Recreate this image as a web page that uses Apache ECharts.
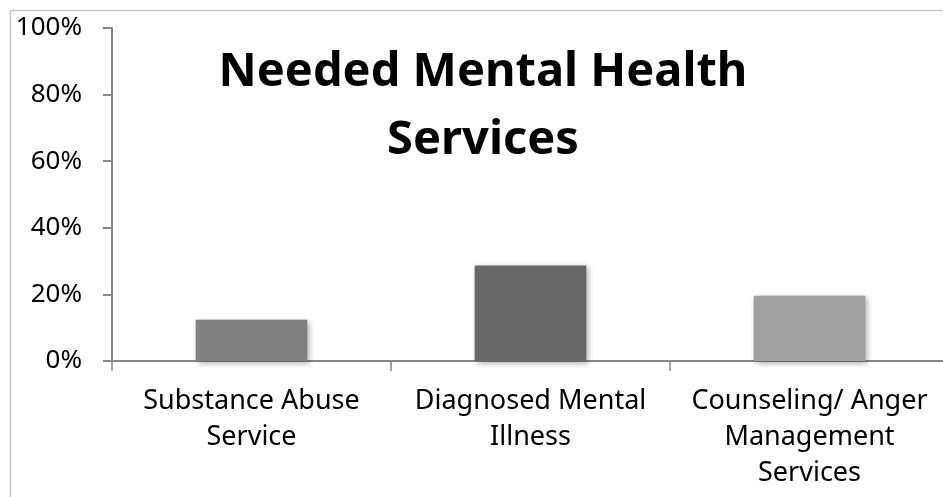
<!DOCTYPE html>
<html>
<head>
<meta charset="utf-8">
<script src="https://cdn.jsdelivr.net/npm/echarts@6/dist/echarts.min.js"></script>
<style>
html,body{margin:0;padding:0;background:#fff;overflow:hidden;}
#chart{width:949px;height:497px;}
</style>
</head>
<body>
<div id="chart"></div>
<script>
const categories = ['Substance Abuse\nService', 'Diagnosed Mental\nIllness', 'Counseling/ Anger\nManagement\nServices'];
const values = [12.4, 28.7, 19.6];
const barColors = ['#808080', '#686868', '#a0a0a0'];
const yTicks = [0, 20, 40, 60, 80, 100];
const titleText = 'Needed Mental Health\nServices';

const chart = echarts.init(document.getElementById('chart'), null, {renderer: 'canvas'});
const font = 'Noto Sans';
chart.setOption({
  animation: false,
  backgroundColor: '#ffffff',
  graphic: [{
    type: 'rect', left: 8, top: 8, z: -10,
    shape: {width: 2000, height: 2000},
    style: {fill: 'none', stroke: '#c8c8c8', lineWidth: 1.5}
  }],
  title: {
    text: titleText,
    left: 478, top: 34, textAlign: 'center',
    textStyle: {fontFamily: font, fontWeight: 'bold', fontSize: 47, lineHeight: 68, color: '#000'}
  },
  grid: {left: 112, top: 28, right: 0, bottom: 136, containLabel: false},
  xAxis: {
    type: 'category',
    data: categories,
    axisLine: {lineStyle: {color: '#888', width: 2}},
    axisTick: {show: true, alignWithLabel: false, length: 10, lineStyle: {color: '#888', width: 1.5}},
    axisLabel: {fontFamily: font, fontSize: 27, lineHeight: 36, color: '#000', margin: 22, interval: 0}
  },
  yAxis: {
    type: 'value',
    min: yTicks[0], max: yTicks[yTicks.length - 1], interval: 20,
    splitLine: {show: false},
    axisLine: {show: true, lineStyle: {color: '#888', width: 2}},
    axisTick: {show: true, length: 9, lineStyle: {color: '#888', width: 2}},
    axisLabel: {fontFamily: font, fontSize: 26, color: '#000', margin: 30, formatter: '{value}%'}
  },
  series: [{
    type: 'bar',
    barWidth: '40%',
    data: values.map((v, i) => ({
      value: v,
      itemStyle: {color: barColors[i], shadowBlur: 6, shadowColor: 'rgba(0,0,0,0.35)', shadowOffsetX: 2, shadowOffsetY: 2}
    }))
  }]
});
</script>
</body>
</html>
